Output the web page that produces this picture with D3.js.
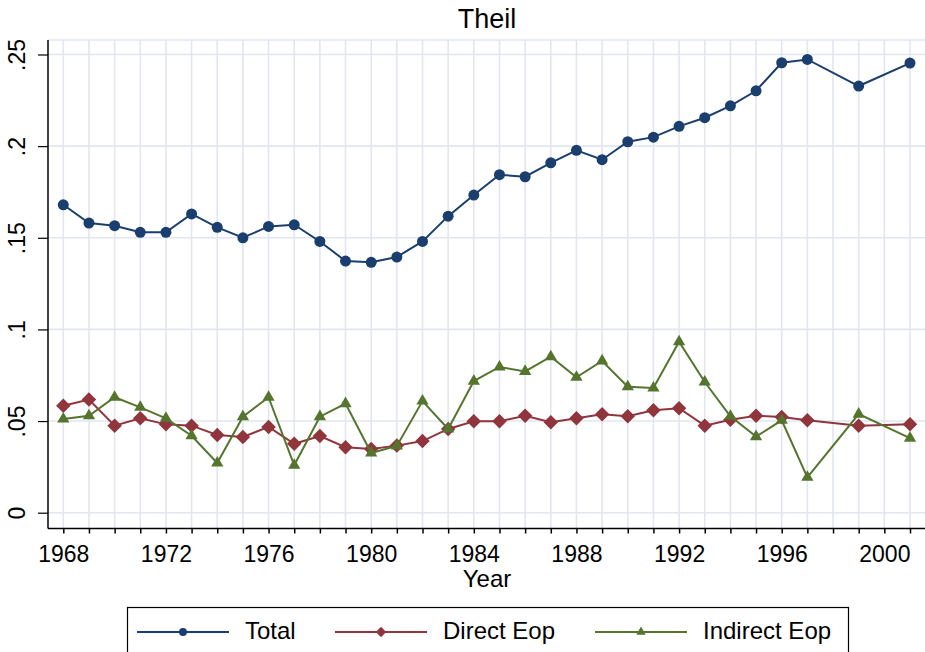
<!DOCTYPE html>
<html>
<head>
<meta charset="utf-8">
<script src="https://cdn.jsdelivr.net/npm/d3@7"></script>
<style>
  body { margin: 0; background: #fff; }
  svg { display: block; font-family: "Liberation Sans", Arial, Helvetica, sans-serif; }
</style>
</head>
<body>
<svg id="chart" width="925" height="652"></svg>
<script>
// years (1998 and 2000 are missing in the source)
var years = [1968, 1969, 1970, 1971, 1972, 1973, 1974, 1975, 1976, 1977,
  1978, 1979, 1980, 1981, 1982, 1983, 1984, 1985, 1986, 1987,
  1988, 1989, 1990, 1991, 1992, 1993, 1994, 1995, 1996, 1997, 1999, 2001];

var total = [0.168, 0.158, 0.1566, 0.153, 0.153, 0.163, 0.1557, 0.150, 0.1562, 0.1571,
  0.148, 0.1373, 0.1366, 0.1395, 0.148, 0.1618, 0.1733, 0.1844, 0.1833, 0.1909,
  0.1977, 0.1926, 0.2024, 0.2049, 0.2108, 0.2155, 0.222, 0.2302, 0.2455, 0.2473, 0.2328, 0.2453];

var directEop = [0.0584, 0.0617, 0.0475, 0.0515, 0.0482, 0.0475, 0.0424, 0.0413, 0.0468, 0.0376,
  0.0418, 0.0357, 0.0347, 0.0366, 0.0391, 0.0457, 0.0499, 0.0499, 0.0529, 0.0493,
  0.0515, 0.0537, 0.0526, 0.0559, 0.057, 0.0475, 0.0507, 0.0529, 0.0522, 0.0504, 0.0475, 0.0482];

var indirectEop = [0.0511, 0.0529, 0.063, 0.0575, 0.0515, 0.042, 0.0271, 0.0524, 0.063, 0.0259,
  0.0524, 0.0595, 0.0326, 0.0364, 0.0609, 0.0457, 0.0718, 0.0795, 0.0771, 0.0851,
  0.0739, 0.0828, 0.0687, 0.068, 0.0933, 0.0713, 0.0526, 0.0415, 0.0504, 0.0193, 0.0538, 0.0407];

var yTicks = [0, 0.05, 0.1, 0.15, 0.2, 0.25];
var yTickLabels = ["0", ".05", ".1", ".15", ".2", ".25"];
var xLabelTicks = [1968, 1972, 1976, 1980, 1984, 1988, 1992, 1996, 2000];
var gridYears = d3.range(1968, 2002);

// diamond = square turned 45 degrees
var series = [
  { name: "Total", values: total, color: "#1a3f6e", symbol: d3.symbolCircle, rot: 0, size: 95, legendSize: 50 },
  { name: "Direct Eop", values: directEop, color: "#90353b", symbol: d3.symbolSquare, rot: 45, size: 105, legendSize: 55 },
  { name: "Indirect Eop", values: indirectEop, color: "#55752f", symbol: d3.symbolTriangle, rot: 0, size: 65, legendSize: 38 }
];

var svg = d3.select("#chart");
var plot = { left: 48, right: 925, top: 40, bottom: 528.5 };
var gridColor = "#e1e6f0";
var fontSize = 23;

var x = d3.scaleLinear().domain([1968, 2001]).range([63.3, 910]);
var y = d3.scaleLinear().domain([0, 0.25]).range([512.7, 54.5]);

// title
svg.append("text")
  .attr("x", 487).attr("y", 28)
  .attr("text-anchor", "middle")
  .attr("font-size", 27)
  .text("Theil");

// grid
var grid = svg.append("g").attr("class", "grid");
grid.append("line")
  .attr("x1", plot.left).attr("x2", plot.right)
  .attr("y1", plot.top).attr("y2", plot.top)
  .attr("stroke", gridColor).attr("stroke-width", 1.5);

grid.selectAll("line.v")
  .data(gridYears)
  .enter()
  .append("line")
  .attr("class", "v")
  .attr("x1", d => x(d)).attr("x2", d => x(d))
  .attr("y1", plot.top).attr("y2", plot.bottom)
  .attr("stroke", gridColor).attr("stroke-width", 1.6);

grid.selectAll("line.h")
  .data(yTicks)
  .enter()
  .append("line")
  .attr("class", "h")
  .attr("x1", plot.left).attr("x2", plot.right)
  .attr("y1", d => y(d)).attr("y2", d => y(d))
  .attr("stroke", gridColor).attr("stroke-width", 1.6);

// y axis
var yAxis = d3.axisLeft(y)
  .tickValues(yTicks)
  .tickSize(10)
  .tickFormat((d, i) => yTickLabels[i]);

var yg = svg.append("g")
  .attr("transform", "translate(" + plot.left + ",0)")
  .call(yAxis);
yg.select(".domain").remove();
yg.selectAll(".tick line").attr("stroke", "#000").attr("stroke-width", 1.2);
yg.selectAll(".tick text")
  .attr("font-size", fontSize)
  .attr("fill", "#000")
  .attr("font-family", "Liberation Sans, Arial, sans-serif")
  .attr("text-anchor", "middle")
  .attr("dy", null)
  .attr("x", null)
  .attr("transform", "translate(-23,0) rotate(-90)");
svg.append("line")
  .attr("x1", plot.left).attr("x2", plot.left)
  .attr("y1", plot.top).attr("y2", plot.bottom)
  .attr("stroke", "#000").attr("stroke-width", 1.5);

// x axis
var xAxis = d3.axisBottom(x)
  .tickValues(gridYears)
  .tickSize(5)
  .tickPadding(12)
  .tickFormat(d => xLabelTicks.indexOf(d) >= 0 ? d : "");

var xg = svg.append("g")
  .attr("transform", "translate(0," + plot.bottom + ")")
  .call(xAxis);
xg.select(".domain").remove();
xg.selectAll(".tick line").attr("stroke", "#000").attr("stroke-width", 1.5);
xg.selectAll(".tick text")
  .attr("font-size", fontSize)
  .attr("fill", "#000")
  .attr("font-family", "Liberation Sans, Arial, sans-serif");
svg.append("line")
  .attr("x1", plot.left).attr("x2", plot.right)
  .attr("y1", plot.bottom).attr("y2", plot.bottom)
  .attr("stroke", "#000").attr("stroke-width", 1.5);

svg.append("text")
  .attr("x", 487).attr("y", 587)
  .attr("text-anchor", "middle")
  .attr("font-size", 24)
  .text("Year");

// lines and markers
var line = d3.line()
  .x(d => x(d.year))
  .y(d => y(d.value));

series.forEach(function(s) {
  var pts = years.map((yr, i) => ({ year: yr, value: s.values[i] }));
  svg.append("path")
    .datum(pts)
    .attr("fill", "none")
    .attr("stroke", s.color)
    .attr("stroke-width", 2)
    .attr("d", line);

  svg.append("g")
    .selectAll("path")
    .data(pts)
    .enter()
    .append("path")
    .attr("d", d3.symbol().type(s.symbol).size(s.size))
    .attr("transform", d => "translate(" + x(d.year) + "," + y(d.value) + ") rotate(" + s.rot + ")")
    .attr("fill", s.color);
});

// legend
var legend = svg.append("g");
legend.append("rect")
  .attr("x", 127.5).attr("y", 607.5)
  .attr("width", 721).attr("height", 60)
  .attr("fill", "#fff")
  .attr("stroke", "#000")
  .attr("stroke-width", 1.2);

var legendX = [137, 335, 595];
series.forEach(function(s, i) {
  var lx = legendX[i], ly = 632;
  legend.append("line")
    .attr("x1", lx).attr("x2", lx + 92)
    .attr("y1", ly).attr("y2", ly)
    .attr("stroke", s.color).attr("stroke-width", 2);
  legend.append("path")
    .attr("d", d3.symbol().type(s.symbol).size(s.legendSize))
    .attr("transform", "translate(" + (lx + 46) + "," + ly + ") rotate(" + s.rot + ")")
    .attr("fill", s.color);
  legend.append("text")
    .attr("x", lx + 108).attr("y", ly + 7)
    .attr("font-size", 24)
    .text(s.name);
});
</script>
</body>
</html>
